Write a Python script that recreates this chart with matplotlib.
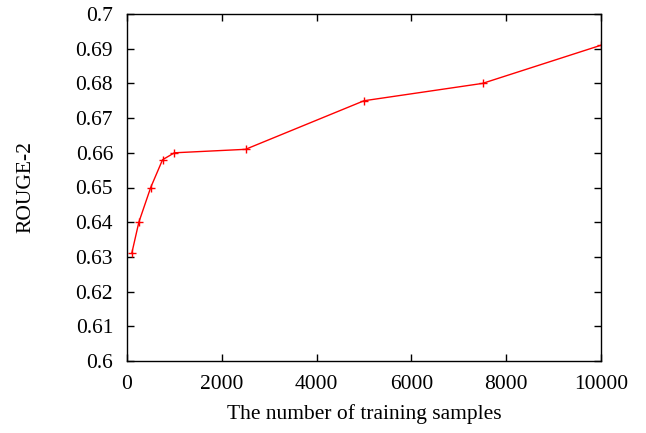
import matplotlib
matplotlib.use("Agg")
import matplotlib.pyplot as plt

samples = [100, 250, 500, 750, 1000, 2500, 5000, 7500, 10000]
rouge2 = [0.631, 0.640, 0.650, 0.658, 0.660, 0.661, 0.675, 0.680, 0.691]
xticks = [0, 2000, 4000, 6000, 8000, 10000]
yticks = [0.6, 0.61, 0.62, 0.63, 0.64, 0.65, 0.66, 0.67, 0.68, 0.69, 0.7]
ytick_labels = ["0.6", "0.61", "0.62", "0.63", "0.64", "0.65", "0.66", "0.67", "0.68", "0.69", "0.7"]

plt.rcParams['font.family'] = ['Liberation Serif', 'DejaVu Serif']

fs = 15.5
fig = plt.figure(figsize=(6.46, 4.33), dpi=100)
ax = fig.add_axes([127/646, 1 - 361/433, (601-127)/646, (361-14)/433])

ax.plot(samples, rouge2, color='#ff0000', linewidth=1.0, marker='+', markersize=6, markeredgewidth=1.0)

ax.set_xlim(0, 10000)
ax.set_ylim(0.6, 0.7)
ax.set_xticks(xticks)
ax.set_xticklabels([str(v) for v in xticks])
ax.set_yticks(yticks)
ax.set_yticklabels(ytick_labels)
ax.tick_params(direction='in', length=5, width=1, top=True, right=True, labelsize=fs, colors='black')
ax.tick_params(axis='x', labeltop=False, pad=10)
ax.tick_params(axis='y', labelright=False, pad=10)
for s in ax.spines.values():
    s.set_linewidth(1.0)
    s.set_color('black')

ax.set_xlabel("The number of training samples", fontsize=fs, labelpad=7)
ax.set_ylabel("ROUGE-2", fontsize=fs, labelpad=29)

fig.savefig("out.png", dpi=100)
